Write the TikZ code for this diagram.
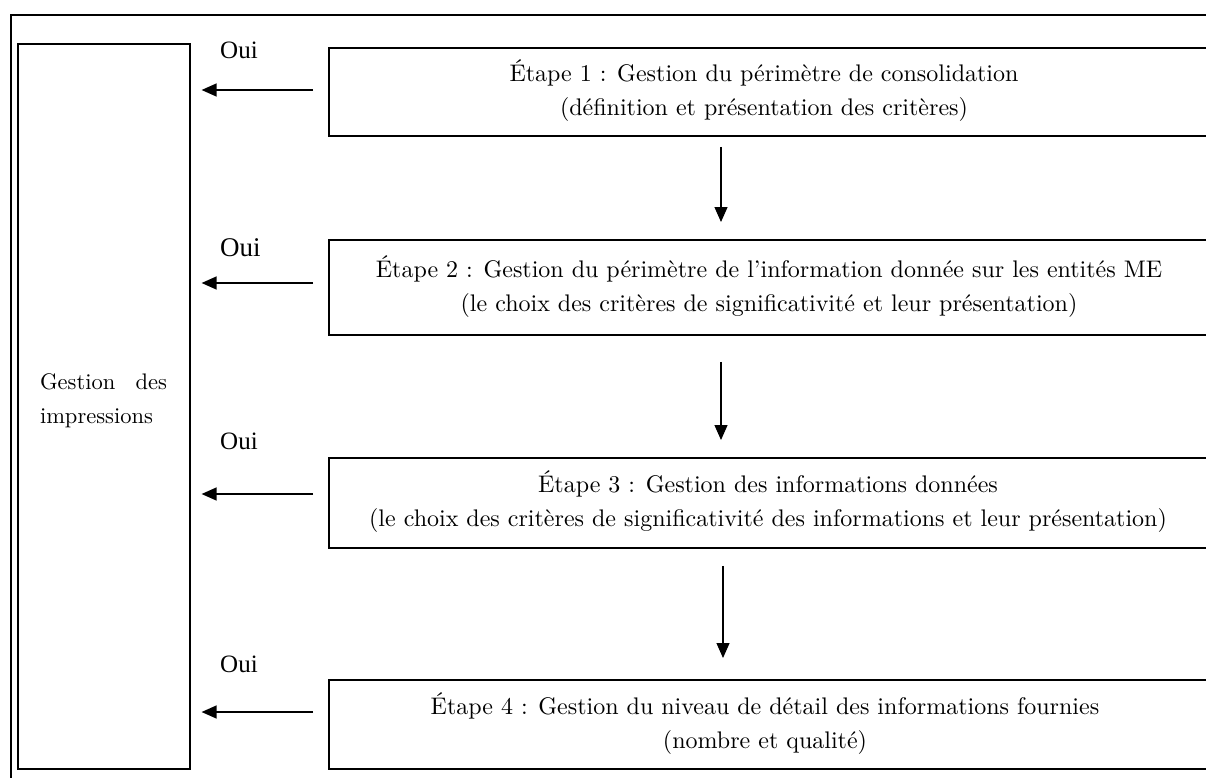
\documentclass[tikz,border=0pt]{standalone}
\usepackage{fontspec}
\setmainfont{lmroman10-regular.otf}
\newfontfamily\ouifont{LiberationSerif-Regular.ttf}
\usetikzlibrary{arrows.meta}
\begin{document}
\begin{tikzpicture}[x=1pt,y=-1pt,
  stepbox/.style={draw, line width=1.8pt, anchor=north west, minimum width=920pt, inner sep=0pt},
  steptext/.style={inner sep=0pt, align=center, font=\fontsize{24}{34}\selectfont},
  arr/.style={line width=1.3pt, -{Triangle[length=15pt,width=13pt]}},
  ouilabel/.style={anchor=base west, inner sep=0pt, font=\ouifont\fontsize{25}{30}\selectfont}]
\useasboundingbox (0,0) rectangle (1206,778);
\clip (0,0) rectangle (1206,778);
% outer frame (cropped)
\draw[line width=2pt] (1230,15) -- (11,15) -- (11,800);
% left box
\node[draw, line width=1.6pt, anchor=north west, minimum width=172pt, minimum height=725pt, inner sep=0pt] (g) at (17,43) {};
\node[text width=127pt, align=justify, inner sep=0pt, font=\fontsize{22.5}{34}\selectfont] (gt) at (103.5,401) {\hyphenpenalty=10000\exhyphenpenalty=10000 Gestion des impressions};
% step boxes
\node[stepbox, minimum height=88pt] (b1) at (328,47) {};
\node[stepbox, minimum height=95pt] (b2) at (328,239) {};
\node[stepbox, minimum height=90pt] (b3) at (328,457) {};
\node[stepbox, minimum height=89pt] (b4) at (328,679) {};
\node[steptext] (t1) at (764,91) {Étape 1 : Gestion du périmètre de consolidation\\(définition et présentation des critères)};
\node[steptext] (t2) at (769,286.5) {Étape 2 : Gestion du périmètre de l’information donnée sur les entités ME\\(le choix des critères de significativité et leur présentation)};
\node[steptext] (t3) at (768,502) {Étape 3 : Gestion des informations données\\(le choix des critères de significativité des informations et leur présentation)};
\node[steptext] (t4) at (765,723.5) {Étape 4 : Gestion du niveau de détail des informations fournies\\(nombre et qualité)};
% Oui labels
\node[ouilabel] (o1) at (220,59) {Oui};
\node[ouilabel, font=\ouifont\fontsize{27}{32}\selectfont] (o2) at (220,256) {Oui};
\node[ouilabel] (o3) at (220,449) {Oui};
\node[ouilabel] (o4) at (220,672) {Oui};
% horizontal arrows
\draw[arr, shorten <=15pt, shorten >=11pt] (b1.west |- 0,90) -- (g.east |- 0,90);
\draw[arr, shorten <=15pt, shorten >=11pt] (b2.west |- 0,283) -- (g.east |- 0,283);
\draw[arr, shorten <=15pt, shorten >=11pt] (b3.west |- 0,494) -- (g.east |- 0,494);
\draw[arr, shorten <=15pt, shorten >=11pt] (b4.west |- 0,712) -- (g.east |- 0,712);
% vertical arrows
\draw[arr, shorten <=10pt, shorten >=17pt] (b1.south -| 721,0) -- (b2.north -| 721,0);
\draw[arr, shorten <=26pt, shorten >=17pt] (b2.south -| 721,0) -- (b3.north -| 721,0);
\draw[arr, shorten <=17pt, shorten >=21pt] (b3.south -| 723,0) -- (b4.north -| 723,0);
\end{tikzpicture}
\end{document}
